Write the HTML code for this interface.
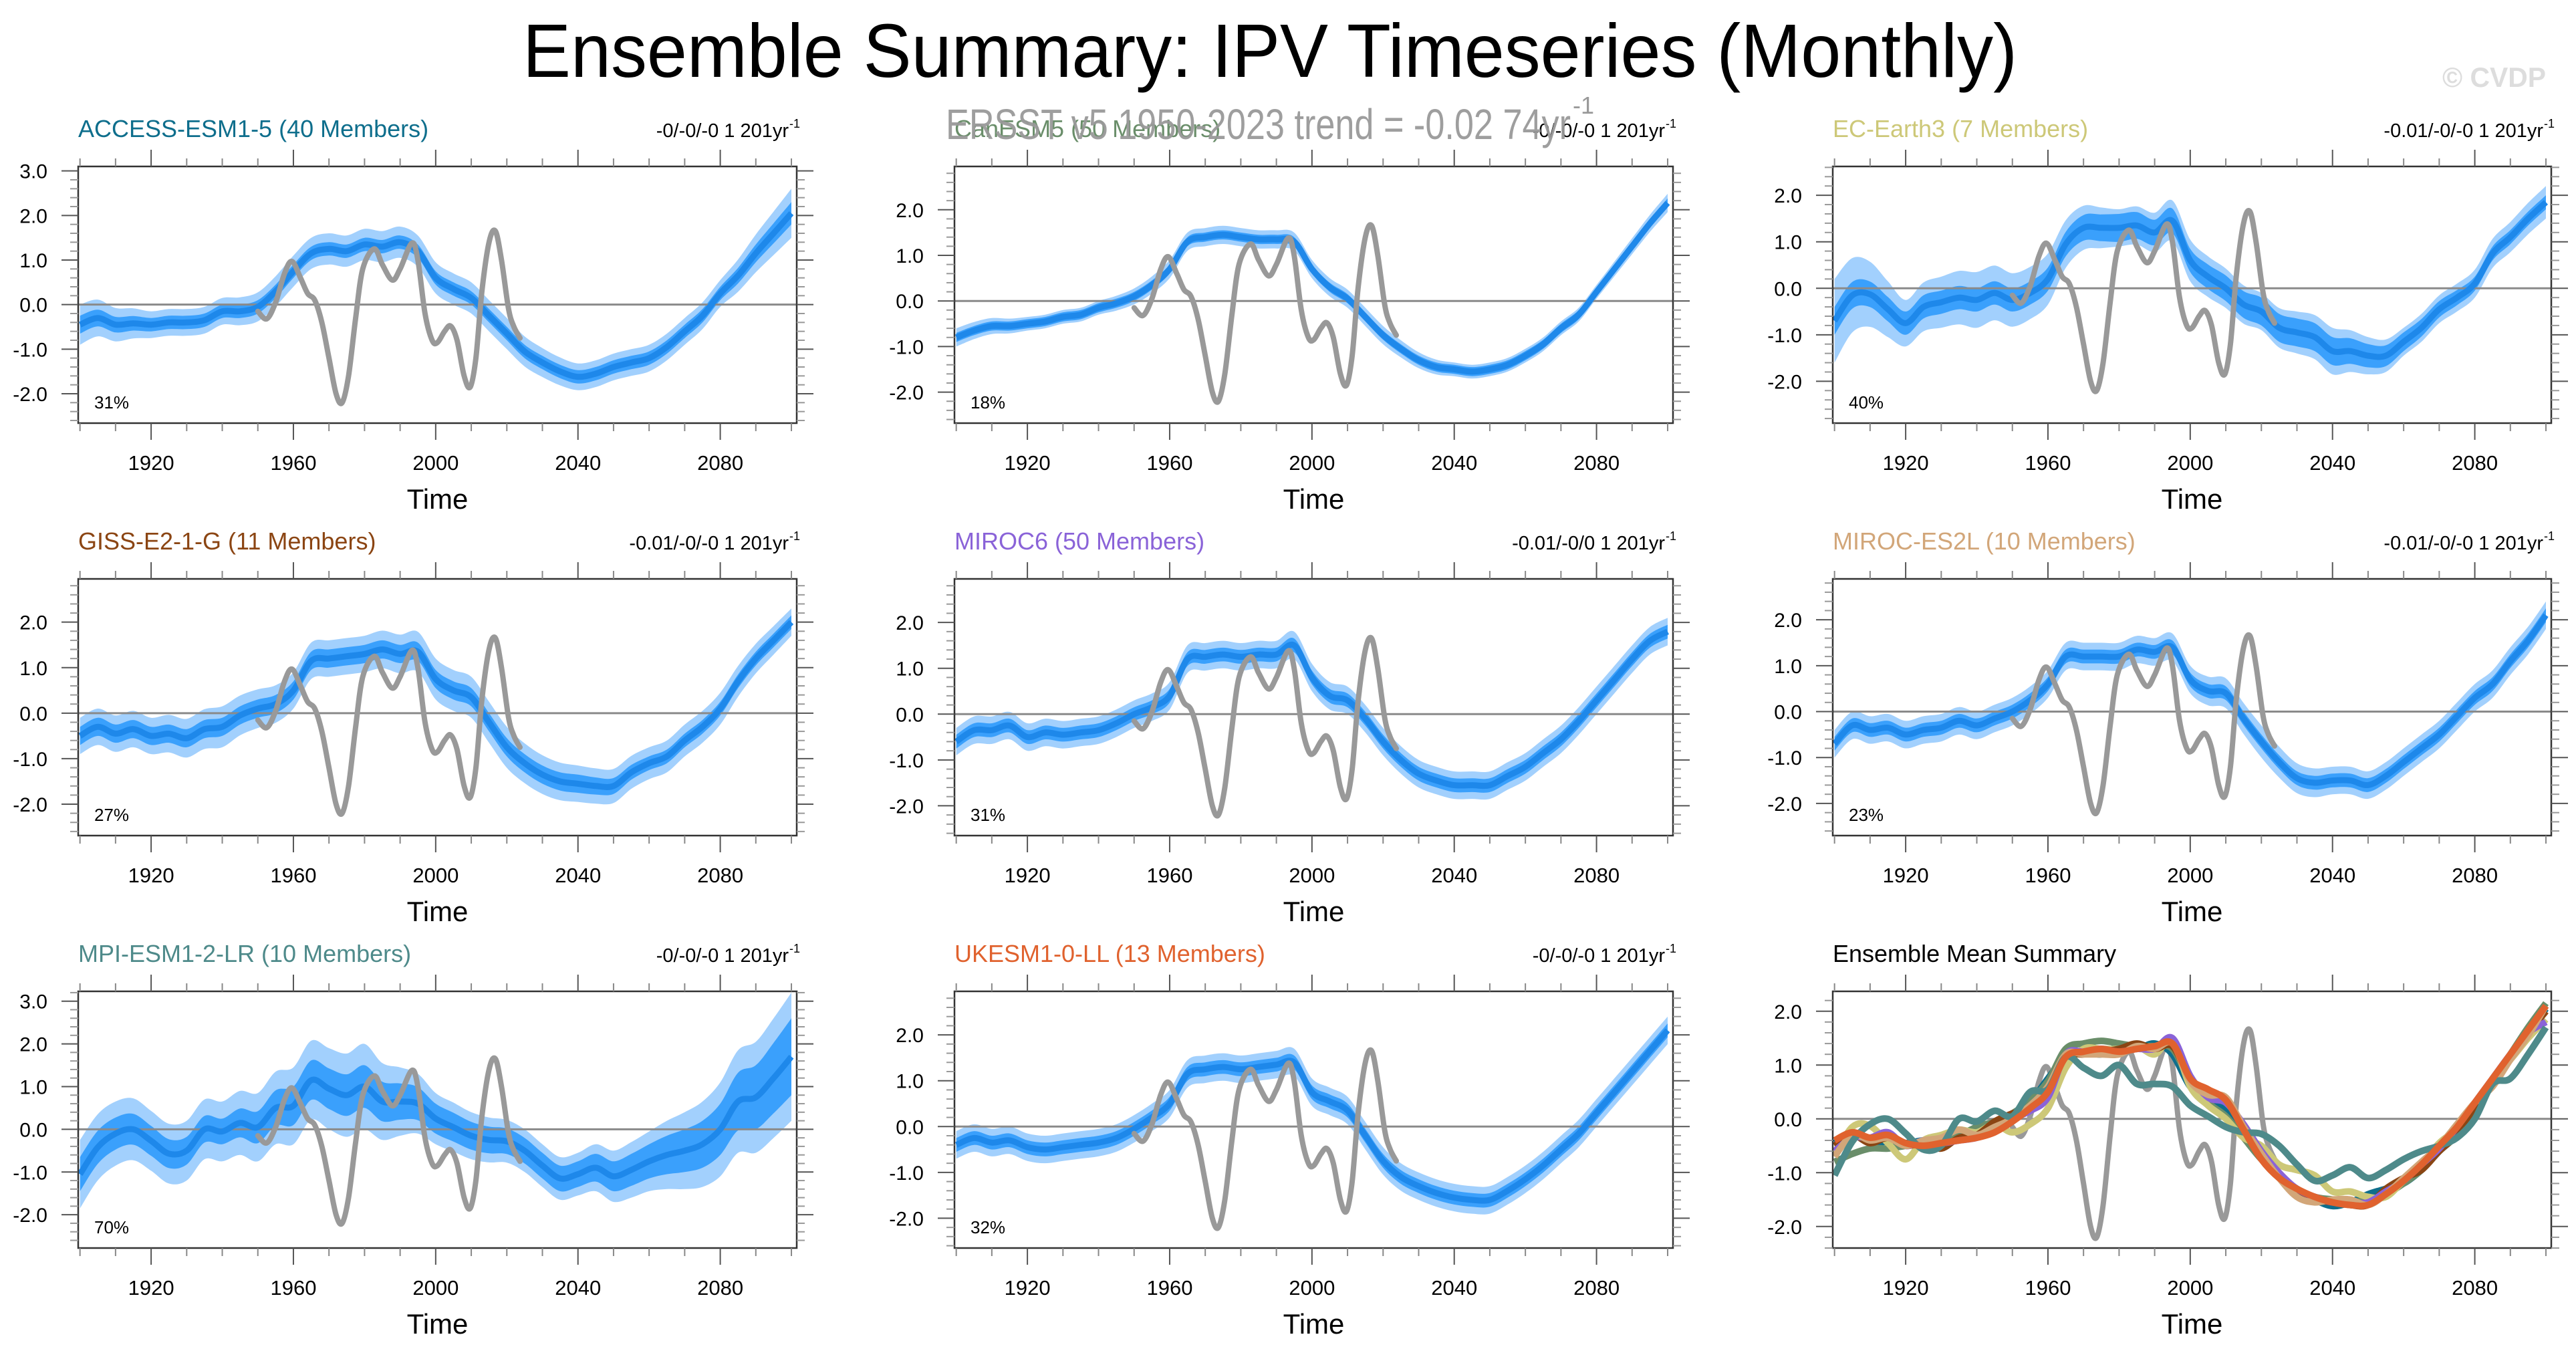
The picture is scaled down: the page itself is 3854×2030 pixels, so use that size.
<!DOCTYPE html>
<html><head><meta charset="utf-8"><title>Ensemble Summary: IPV Timeseries</title>
<style>html,body{margin:0;padding:0;background:#fff;}svg{display:block;font-family:"Liberation Sans",Arial,sans-serif;}</style>
</head><body>
<svg id="fig" xmlns="http://www.w3.org/2000/svg" width="3854" height="2030" viewBox="0 0 3854 2030">
<rect x="0" y="0" width="3854" height="2030" fill="#fff"/>
<text x="782" y="115" font-size="113" textLength="2236" lengthAdjust="spacingAndGlyphs" fill="#000">Ensemble Summary: IPV Timeseries (Monthly)</text>
<text x="3654" y="130" font-size="42" font-weight="bold" fill="#ddd" textLength="155" lengthAdjust="spacingAndGlyphs">© CVDP</text>
<g id="panels"></g>
<text x="1415" y="208" font-size="64" fill="#999" opacity="0.95" textLength="935" lengthAdjust="spacingAndGlyphs">ERSST v5 1950-2023 trend = -0.02 74yr</text>
<text x="2353" y="170" font-size="36" fill="#999">-1</text>
</svg>
<script>
const years = [1900,1905,1910,1915,1920,1925,1930,1935,1940,1945,1950,1955,1960,1965,1970,1975,1980,1985,1990,1995,2000,2005,2010,2015,2020,2025,2030,2035,2040,2045,2050,2055,2060,2065,2070,2075,2080,2085,2090,2095,2100];
const bandYears = [1900,1920,1940,1960,1980,2000,2020,2040,2060,2080,2100];

const modelNames = ["ACCESS-ESM1-5","CanESM5","EC-Earth3","GISS-E2-1-G","MIROC6","MIROC-ES2L","MPI-ESM1-2-LR","UKESM1-0-LL"];
const memberCounts = [40,50,7,11,50,10,10,13];
const pctLabels = ["31%","18%","40%","27%","31%","23%","70%","32%"];
const trendLabels = ["-0/-0/-0 1 201yr","-0/-0/-0 1 201yr","-0.01/-0/-0 1 201yr","-0.01/-0/-0 1 201yr","-0.01/-0/0 1 201yr","-0.01/-0/-0 1 201yr","-0/-0/-0 1 201yr","-0/-0/-0 1 201yr"];

const meanACCESS = [-0.45,-0.3,-0.45,-0.42,-0.45,-0.4,-0.4,-0.35,-0.15,-0.15,-0.05,0.3,0.75,1.15,1.25,1.2,1.35,1.3,1.4,1.2,0.6,0.35,0.15,-0.25,-0.65,-1.05,-1.3,-1.5,-1.62,-1.55,-1.4,-1.3,-1.2,-0.95,-0.6,-0.25,0.25,0.65,1.15,1.6,2.05];
const meanCanESM5 = [-0.8,-0.65,-0.55,-0.55,-0.5,-0.45,-0.35,-0.3,-0.15,-0.05,0.1,0.35,0.7,1.3,1.4,1.45,1.4,1.35,1.35,1.3,0.7,0.3,0.05,-0.35,-0.75,-1.05,-1.3,-1.45,-1.5,-1.55,-1.5,-1.4,-1.2,-0.95,-0.6,-0.3,0.2,0.7,1.2,1.7,2.15];
const meanECEarth3 = [-0.7,-0.15,-0.13,-0.45,-0.75,-0.4,-0.3,-0.2,-0.25,-0.1,-0.25,-0.1,0.2,0.95,1.3,1.3,1.3,1.35,1.2,1.45,0.6,0.25,0.0,-0.35,-0.5,-0.85,-0.95,-1.05,-1.35,-1.35,-1.45,-1.45,-1.15,-0.85,-0.45,-0.2,0.1,0.75,1.1,1.5,1.85];
const meanGISS = [-0.5,-0.3,-0.45,-0.35,-0.5,-0.45,-0.55,-0.35,-0.3,-0.05,0.1,0.2,0.5,1.15,1.2,1.25,1.3,1.4,1.3,1.35,0.75,0.5,0.35,-0.2,-0.75,-1.1,-1.35,-1.5,-1.55,-1.6,-1.6,-1.3,-1.1,-0.95,-0.6,-0.3,0.1,0.7,1.2,1.6,2.0];
const meanMIROC6 = [-0.6,-0.35,-0.35,-0.25,-0.5,-0.4,-0.45,-0.4,-0.35,-0.2,0.0,0.15,0.4,1.2,1.25,1.3,1.25,1.3,1.3,1.5,0.8,0.4,0.3,-0.1,-0.6,-1.0,-1.3,-1.45,-1.55,-1.55,-1.55,-1.35,-1.15,-0.85,-0.55,-0.15,0.3,0.75,1.2,1.6,1.8];
const meanMIROCES2L = [-0.7,-0.3,-0.4,-0.35,-0.5,-0.4,-0.35,-0.2,-0.3,-0.15,0.0,0.25,0.6,1.2,1.2,1.2,1.2,1.35,1.3,1.4,0.7,0.45,0.4,-0.15,-0.65,-1.1,-1.45,-1.55,-1.5,-1.5,-1.6,-1.4,-1.1,-0.8,-0.5,-0.1,0.3,0.6,1.1,1.55,2.1];
const meanMPI = [-1.05,-0.42,-0.1,0.0,-0.27,-0.57,-0.5,0.0,-0.05,0.15,0.05,0.5,0.55,1.15,0.95,0.8,1.0,0.65,0.65,0.6,0.25,0.05,-0.15,-0.25,-0.28,-0.5,-0.85,-1.15,-1.05,-0.9,-1.1,-0.95,-0.75,-0.6,-0.5,-0.35,0.0,0.65,0.75,1.2,1.7];
const meanUKESM = [-0.4,-0.25,-0.35,-0.3,-0.45,-0.5,-0.45,-0.4,-0.35,-0.25,-0.05,0.2,0.5,1.15,1.25,1.3,1.25,1.3,1.35,1.4,0.75,0.55,0.35,-0.2,-0.75,-1.1,-1.3,-1.45,-1.55,-1.6,-1.6,-1.4,-1.15,-0.85,-0.5,-0.15,0.3,0.75,1.2,1.65,2.1];

const sdACCESS = [0.2,0.15,0.15,0.15,0.15,0.15,0.15,0.15,0.15,0.15,0.25];
const rgACCESS = [0.45,0.3,0.3,0.35,0.35,0.35,0.35,0.3,0.3,0.3,0.55];
const sdCanESM5 = [0.1,0.1,0.1,0.1,0.1,0.1,0.1,0.1,0.1,0.1,0.1];
const rgCanESM5 = [0.2,0.15,0.15,0.2,0.2,0.2,0.2,0.15,0.15,0.15,0.2];
const sdECEarth3 = [0.3,0.25,0.25,0.25,0.3,0.25,0.3,0.3,0.2,0.15,0.15];
const rgECEarth3 = [0.9,0.5,0.6,0.55,0.4,0.45,0.4,0.5,0.3,0.3,0.35];
const sdGISS = [0.2,0.2,0.2,0.2,0.2,0.2,0.2,0.2,0.15,0.15,0.15];
const rgGISS = [0.4,0.4,0.45,0.4,0.4,0.45,0.45,0.4,0.35,0.35,0.3];
const sdMIROC6 = [0.15,0.15,0.15,0.15,0.15,0.15,0.15,0.15,0.15,0.15,0.15];
const rgMIROC6 = [0.3,0.3,0.3,0.3,0.3,0.3,0.3,0.3,0.3,0.3,0.3];
const sdMIROCES2L = [0.15,0.15,0.15,0.15,0.15,0.15,0.15,0.15,0.15,0.15,0.15];
const rgMIROCES2L = [0.3,0.3,0.3,0.3,0.3,0.3,0.35,0.3,0.3,0.3,0.3];
const sdMPI = [0.4,0.35,0.3,0.45,0.5,0.35,0.3,0.3,0.4,0.6,0.9];
const rgMPI = [0.8,0.7,0.7,0.9,1.0,0.6,0.5,0.5,0.7,1.1,1.5];
const sdUKESM = [0.15,0.15,0.15,0.15,0.15,0.15,0.15,0.15,0.15,0.15,0.15];
const rgUKESM = [0.3,0.3,0.3,0.3,0.3,0.3,0.3,0.3,0.3,0.3,0.3];

const obsYears = [1950,1952.5,1955,1957.5,1959.6,1962,1964,1966,1968,1970,1972,1973.7,1975.5,1977.5,1979.5,1982.7,1985,1987.8,1990,1993.3,1995,1997,1999,2000.5,2002.5,2004.2,2006,2008,2009.7,2011.3,2013,2015,2016.8,2018.5,2020.5,2022,2023.7];
const obsValues = [-0.15,-0.32,0.05,0.7,0.97,0.6,0.25,0.1,-0.4,-1.2,-2.0,-2.2,-1.6,-0.3,0.8,1.25,0.9,0.55,0.8,1.38,1.0,-0.2,-0.8,-0.85,-0.6,-0.48,-0.8,-1.6,-1.85,-1.2,0.3,1.4,1.65,1.0,-0.1,-0.5,-0.75];

const yTickValues = [-2,-1,0,1,2,3];
const yTickLabels = ["-2.0","-1.0","0.0","1.0","2.0","3.0"];
const xTickValues = [1920,1960,2000,2040,2080];
const xTickLabels = ["1920","1960","2000","2040","2080"];

const means = [meanACCESS,meanCanESM5,meanECEarth3,meanGISS,meanMIROC6,meanMIROCES2L,meanMPI,meanUKESM];
const sds = [sdACCESS,sdCanESM5,sdECEarth3,sdGISS,sdMIROC6,sdMIROCES2L,sdMPI,sdUKESM];
const rgs = [rgACCESS,rgCanESM5,rgECEarth3,rgGISS,rgMIROC6,rgMIROCES2L,rgMPI,rgUKESM];
const modelColors = ["#0e6e8c","#6a8e6a","#cdc878","#8b4513","#8a63d8","#d2a679","#4e8a8a","#e0622e"];

const NS = "http://www.w3.org/2000/svg";
const root = document.getElementById("panels");
const colX = [117,1428,2742];
const rowY = [249,866,1483];
const PW = 1075, PH = 384;
const XMIN = 1899.5, XMAX = 2101.5;
const yRanges = [[-2.66,3.1],[-2.68,2.95],[-2.9,2.62],[-2.69,2.95],[-2.65,2.95],[-2.7,2.89],[-2.78,3.23],[-2.65,2.95],[-2.4,2.37]];

function el(tag, attrs, parent){const e=document.createElementNS(NS,tag);for(const k in attrs)e.setAttribute(k,attrs[k]);(parent||root).appendChild(e);return e;}
function smoothPath(pts, move){
  let d = (move?"M":"L")+pts[0][0].toFixed(1)+","+pts[0][1].toFixed(1);
  for(let i=0;i<pts.length-1;i++){
    const p0=pts[Math.max(0,i-1)],p1=pts[i],p2=pts[i+1],p3=pts[Math.min(pts.length-1,i+2)];
    const c1=[p1[0]+(p2[0]-p0[0])/6,p1[1]+(p2[1]-p0[1])/6];
    const c2=[p2[0]-(p3[0]-p1[0])/6,p2[1]-(p3[1]-p1[1])/6];
    d+="C"+c1[0].toFixed(1)+","+c1[1].toFixed(1)+" "+c2[0].toFixed(1)+","+c2[1].toFixed(1)+" "+p2[0].toFixed(1)+","+p2[1].toFixed(1);
  }
  return d;
}
function bandAt(arr, yr){
  for(let i=0;i<bandYears.length-1;i++){
    if(yr<=bandYears[i+1]){const t=(yr-bandYears[i])/(bandYears[i+1]-bandYears[i]);return arr[i]+(arr[i+1]-arr[i])*t;}
  }
  return arr[arr.length-1];
}

function drawPanel(idx){
  const c=idx%3, r=Math.floor(idx/3);
  const x0=colX[c], y0=rowY[r];
  const [ymin,ymax]=yRanges[idx];
  const sx=v=>x0+(v-XMIN)/(XMAX-XMIN)*PW;
  const sy=v=>y0+PH-(v-ymin)/(ymax-ymin)*PH;
  const g=el("g",{});
  
  
  const clipId="clip"+idx;
  const cp=el("clipPath",{id:clipId},g);
  el("rect",{x:x0,y:y0,width:PW,height:PH},cp);
  const plot=el("g",{"clip-path":"url(#"+clipId+")"},g);

  if(idx<8){
    const m=means[idx];
    const lightUp=years.map((yr,i)=>[sx(yr),sy(m[i]+bandAt(rgs[idx],yr))]);
    const lightDn=years.map((yr,i)=>[sx(yr),sy(m[i]-bandAt(rgs[idx],yr))]).reverse();
    const lb=el("path",{d:smoothPath(lightUp,true)+smoothPath(lightDn,false)+"Z",fill:"#a2d0fd"},plot);
    
    
    const darkUp=years.map((yr,i)=>[sx(yr),sy(m[i]+bandAt(sds[idx],yr))]);
    const darkDn=years.map((yr,i)=>[sx(yr),sy(m[i]-bandAt(sds[idx],yr))]).reverse();
    const db=el("path",{d:smoothPath(darkUp,true)+smoothPath(darkDn,false)+"Z",fill:"#3aa0fc"},plot);
    
    
  }
  const zl=el("line",{x1:x0,x2:x0+PW,y1:sy(0),y2:sy(0),stroke:"#8a8a8a","stroke-width":3},plot);
  
  
  if(idx<8){
    const mp=years.map((yr,i)=>[sx(yr),sy(means[idx][i])]);
    const ml=el("path",{d:smoothPath(mp,true),fill:"none",stroke:"#1e88ea","stroke-width":9,"stroke-linejoin":"round"},plot);
    
    
  }
  const op=obsYears.map((yr,i)=>[sx(yr),sy(obsValues[i])]);
  const ol=el("path",{d:smoothPath(op,true),fill:"none",stroke:"#999","stroke-width":8,"stroke-linecap":"round"},plot);
  
  
  if(idx===8){
    for(let k=0;k<8;k++){
      const mp=years.map((yr,i)=>[sx(yr),sy(means[k][i])]);
      const l=el("path",{d:smoothPath(mp,true),fill:"none",stroke:modelColors[k],"stroke-width":10,"stroke-linejoin":"round"},plot);
      
      
    }
  }
  const fr=el("rect",{x:x0,y:y0,width:PW,height:PH,fill:"none",stroke:"#333","stroke-width":2.5},g);
  
  

  for(let yr=1900; yr<=2100; yr+=10){
    const maj=xTickValues.indexOf(yr)>=0, len=maj?25:12, x=sx(yr);
    el("line",{x1:x,x2:x,y1:y0,y2:y0-len,stroke:maj?"#555":"#888","stroke-width":2},g);
    el("line",{x1:x,x2:x,y1:y0+PH,y2:y0+PH+len,stroke:maj?"#555":"#888","stroke-width":2},g);
  }
  xTickValues.forEach((v,i)=>{
    const t=el("text",{x:sx(v),y:y0+PH+70,"font-size":31,"text-anchor":"middle",fill:"#000"},g);
    t.textContent=xTickLabels[i];
    
    
  });
  const xt=el("text",{x:x0+PW/2,y:y0+PH+128,"font-size":42,"text-anchor":"middle",fill:"#000"},g);
  xt.textContent="Time";
  
  
  for(let k=Math.ceil(ymin*5); k<=Math.floor(ymax*5); k++){
    const v=k/5, maj=(k%5===0), len=maj?25:12, y=sy(v);
    el("line",{x1:x0,x2:x0-len,y1:y,y2:y,stroke:maj?"#555":"#999","stroke-width":2},g);
    el("line",{x1:x0+PW,x2:x0+PW+len,y1:y,y2:y,stroke:maj?"#555":"#999","stroke-width":2},g);
  }
  yTickValues.forEach((v,i)=>{
    if(v<ymin||v>ymax) return;
    const t=el("text",{x:x0-46,y:sy(v)+11,"font-size":30,"text-anchor":"end",fill:"#000"},g);
    t.textContent=yTickLabels[i];
    
    
  });
  const tt=el("text",{x:x0,y:y0-44,"font-size":36,fill:idx<8?modelColors[idx]:"#000"},g);
  tt.textContent=idx<8?(modelNames[idx]+" ("+memberCounts[idx]+" Members)"):"Ensemble Mean Summary";
  
  
  if(idx<8){
    const tr=el("text",{x:x0+PW-12,y:y0-44,"font-size":29,"text-anchor":"end",fill:"#000"},g);
    tr.textContent=trendLabels[idx];
    
    
    const sup=el("text",{x:x0+PW-11,y:y0-58,"font-size":18,fill:"#000"},g);
    sup.textContent="-1";
    
    
    const pc=el("text",{x:x0+24,y:y0+PH-22,"font-size":26,fill:"#000"},g);
    pc.textContent=pctLabels[idx];
    
    
  }
}
for(let i=0;i<9;i++) drawPanel(i);
</script>
</body></html>
